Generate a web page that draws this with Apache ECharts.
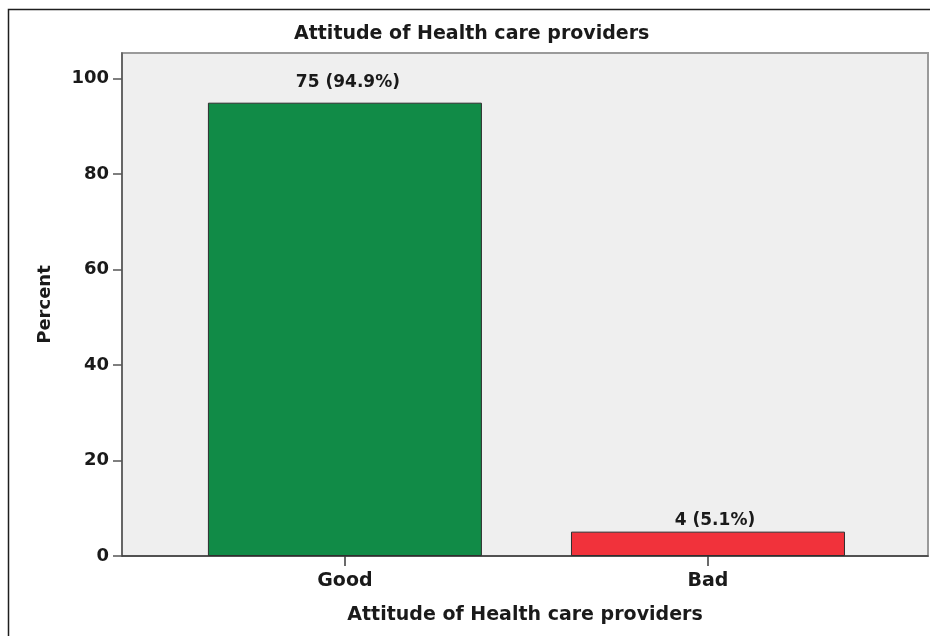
<!DOCTYPE html>
<html>
<head>
<meta charset="utf-8">
<script src="https://cdn.jsdelivr.net/npm/echarts@6/dist/echarts.min.js"></script>
<style>
  html, body { margin: 0; padding: 0; background: #ffffff; }
  #chart { width: 930px; height: 636px; }
</style>
</head>
<body>
<div id="chart"></div>
<script>
// Attitude of health care providers: respondent counts and percentages
const categories = ['Good', 'Bad'];
const counts = [75, 4];
const percents = [94.9, 5.1];
const barColors = ['#118b47', '#f1323b'];
const yTicks = [0, 20, 40, 60, 80, 100];

const FONT = 'DejaVu Sans';
const TEXT = '#1a1a1a';

// per-bar label placement tweaks (gap above bar, horizontal nudge)
const labelGap = [12, 3];
const labelShift = [3, 7];

const chart = echarts.init(document.getElementById('chart'), null, { renderer: 'canvas' });

const barData = categories.map((c, i) => ({
  value: [i + 1, percents[i]],
  itemStyle: { color: barColors[i] },
  label: { distance: labelGap[i], offset: [labelShift[i], 0] }
}));

chart.setOption({
  animation: false,
  backgroundColor: '#ffffff',
  title: {
    text: 'Attitude of Health care providers',
    left: 294,
    top: 25,
    padding: 0,
    textStyle: { fontFamily: FONT, fontSize: 19, fontWeight: 'bold', color: TEXT }
  },
  graphic: [{
    type: 'rect',
    z: -10,
    silent: true,
    shape: { x: 8.5, y: 9.5, width: 1200, height: 1200 },
    style: { fill: 'none', stroke: '#1e1e1e', lineWidth: 1.5 }
  }],
  grid: {
    left: 122,
    top: 53,
    right: 2,
    bottom: 80,
    show: true,
    backgroundColor: '#efefef',
    borderColor: '#9a9a9a',
    borderWidth: 2
  },
  xAxis: {
    type: 'value',
    min: 0.386,
    max: 2.606,
    name: 'Attitude of Health care providers',
    nameLocation: 'middle',
    nameGap: 50,
    nameTextStyle: { fontFamily: FONT, fontSize: 19, fontWeight: 'bold', color: TEXT },
    splitLine: { show: false },
    axisLine: { show: true, onZero: false, lineStyle: { color: '#3a3a3a', width: 1.5 } },
    axisTick: {
      show: true,
      length: 10,
      customValues: categories.map((c, i) => i + 1),
      lineStyle: { color: '#3a3a3a', width: 1.5 }
    },
    axisLabel: {
      customValues: categories.map((c, i) => i + 1),
      formatter: v => categories[Math.round(v) - 1] || '',
      margin: 16,
      fontFamily: FONT,
      fontSize: 19,
      fontWeight: 'bold',
      color: TEXT
    }
  },
  yAxis: {
    type: 'value',
    min: 0,
    max: 105.3,
    name: 'Percent',
    nameLocation: 'middle',
    nameGap: 68,
    nameTextStyle: { fontFamily: FONT, fontSize: 18, fontWeight: 'bold', color: TEXT },
    splitLine: { show: false },
    axisLine: { show: true, lineStyle: { color: '#555555', width: 1.5 } },
    axisTick: {
      show: true,
      length: 9,
      customValues: yTicks,
      lineStyle: { color: '#555555', width: 1.5 }
    },
    axisLabel: {
      customValues: yTicks,
      margin: 13,
      fontFamily: FONT,
      fontSize: 18,
      fontWeight: 'bold',
      color: TEXT
    }
  },
  series: [{
    type: 'bar',
    barWidth: 274,
    data: barData,
    itemStyle: { borderColor: '#2e2e2e', borderWidth: 1 },
    label: {
      show: true,
      position: 'top',
      formatter: p => counts[p.dataIndex] + ' (' + percents[p.dataIndex] + '%)',
      fontFamily: FONT,
      fontSize: 17,
      fontWeight: 'bold',
      color: TEXT
    }
  }]
});
</script>
</body>
</html>
